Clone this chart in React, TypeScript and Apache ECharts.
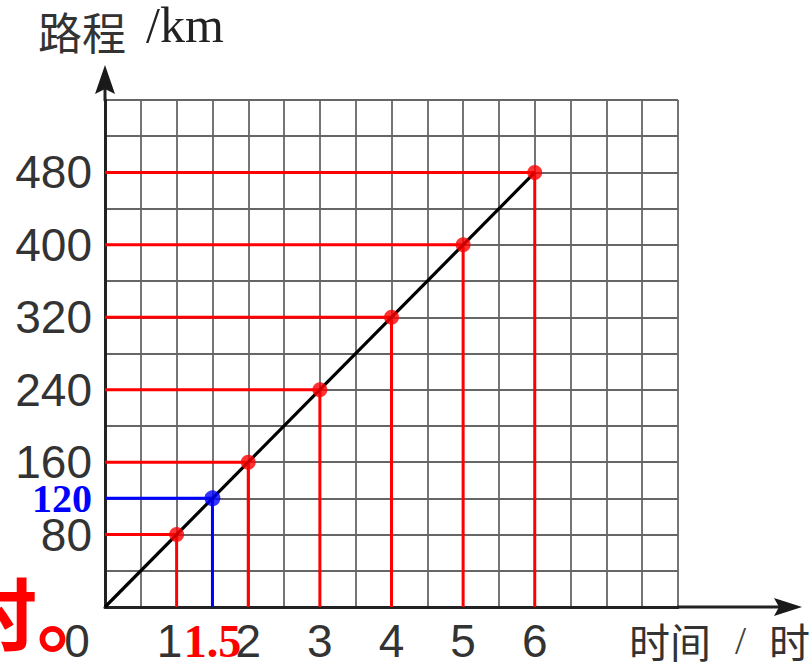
import React, { useEffect, useRef } from 'react';
import * as echarts from 'echarts';

// data
const hours = [1, 2, 3, 4, 5, 6];
const distances = [80, 160, 240, 320, 400, 480];
const blueHour = 1.5;
const blueDistance = 120;
const lineEnd = [6, 480];
const yTickLabels = [80, 160, 240, 320, 400, 480];
const xTickLabels = [2, 3, 4, 5, 6];
const xMax = 8;
const yMax = 560;

const SANS = '"Liberation Sans", Arial, sans-serif';
const SERIF = '"Liberation Serif", "Times New Roman", serif';
const CJK = '"Noto Sans CJK SC", sans-serif';

export default function App() {
  const ref = useRef<HTMLDivElement>(null);
  useEffect(() => {
    if (!ref.current) return;
    const chart = echarts.init(ref.current, undefined, { renderer: 'svg' });
    const guideSeries = hours.map((h, i) => ({
      type: 'line',
      data: [[0, distances[i]], [h, distances[i]], [h, 0]],
      symbol: 'none',
      lineStyle: { color: '#ff0000', width: 3 },
      z: 3,
      silent: true,
    }));
    chart.setOption({
      animation: false,
      grid: { left: 105, right: 134, top: 100, bottom: 56, containLabel: false, outerBoundsMode: 'none' },
      xAxis: {
        type: 'value',
        min: 0,
        max: xMax,
        interval: 0.5,
        axisLine: { show: true, onZero: false, lineStyle: { color: '#222', width: 3 } },
        axisTick: { show: false },
        splitLine: { show: true, lineStyle: { color: '#666', width: 1.8 } },
        axisLabel: {
          show: true,
          margin: 11,
          fontSize: 46,
          fontFamily: SANS,
          color: '#333',
          showMinLabel: true,
          showMaxLabel: true,
          formatter: (v: number) => {
            if (v === 0) return '{zero|0}';
            if (v === 1) return '{one|1}';
            if (v === blueHour) return '{red|1.5}';
            if (xTickLabels.includes(v)) return String(v);
            return '';
          },
          rich: {
            zero: { fontSize: 46, fontFamily: SANS, color: '#333', padding: [0, 56, 0, 0] },
            one: { fontSize: 46, fontFamily: SANS, color: '#333', padding: [0, 14, 0, 0] },
            red: { fontSize: 46, fontFamily: SERIF, fontWeight: 'bold', color: '#ff0000' },
          },
        },
      },
      yAxis: {
        type: 'value',
        min: 0,
        max: yMax,
        interval: 40,
        axisLine: { show: true, onZero: false, lineStyle: { color: '#222', width: 3 } },
        axisTick: { show: false },
        splitLine: { show: true, lineStyle: { color: '#666', width: 1.8 } },
        axisLabel: {
          show: true,
          margin: 13,
          fontSize: 46,
          fontFamily: SANS,
          color: '#333',
          formatter: (v: number) => {
            if (v === blueDistance) return '{blue|120}';
            if (yTickLabels.includes(v)) return String(v);
            return '';
          },
          rich: {
            blue: { fontSize: 40, fontFamily: SERIF, fontWeight: 'bold', color: '#0000ff' },
          },
        },
      },
      series: [
        ...guideSeries,
        {
          type: 'line',
          data: [[0, blueDistance], [blueHour, blueDistance], [blueHour, 0]],
          symbol: 'none',
          lineStyle: { color: '#0000ff', width: 3 },
          z: 3,
          silent: true,
        },
        {
          type: 'line',
          data: [[0, 0], lineEnd],
          symbol: 'none',
          lineStyle: { color: '#000', width: 3.2 },
          z: 4,
          silent: true,
        },
        {
          type: 'scatter',
          data: hours.map((h, i) => [h, distances[i]]),
          symbolSize: 15,
          itemStyle: { color: '#ff0000' },
          z: 5,
          silent: true,
        },
        {
          type: 'scatter',
          data: [[blueHour, blueDistance]],
          symbolSize: 16,
          itemStyle: { color: '#0000ff' },
          z: 5,
          silent: true,
        },
      ],
    });

    const o = chart.convertToPixel({ gridIndex: 0 }, [0, 0]) as number[];
    const tr = chart.convertToPixel({ gridIndex: 0 }, [xMax, yMax]) as number[];
    const ox = o[0], oy = o[1], top = tr[1], right = tr[0];
    chart.setOption({
      graphic: [
        { type: 'line', shape: { x1: ox, y1: top + 1, x2: ox, y2: top - 12 }, style: { stroke: '#222', lineWidth: 3 } },
        {
          type: 'polygon',
          shape: { points: [[ox, top - 35], [ox - 10, top - 6], [ox, top - 11], [ox + 10, top - 6]] },
          style: { fill: '#1a1a1a' },
        },
        { type: 'line', shape: { x1: right - 1, y1: oy, x2: right + 102, y2: oy }, style: { stroke: '#222', lineWidth: 3 } },
        {
          type: 'polygon',
          shape: { points: [[right + 124, oy], [right + 96, oy - 9], [right + 101, oy], [right + 96, oy + 9]] },
          style: { fill: '#1a1a1a' },
        },
        { type: 'text', x: 38, y: 31, style: { text: '路程', font: `44px ${CJK}`, fill: '#333', textVerticalAlign: 'middle' } },
        { type: 'text', x: 146, y: 50, style: { text: '/km', font: `50px ${SERIF}`, fill: '#222', textVerticalAlign: 'bottom' } },
        { type: 'text', x: 629, y: 640, style: { text: '时间', font: `41px ${CJK}`, fill: '#333', textVerticalAlign: 'middle' } },
        { type: 'text', x: 735, y: 640, style: { text: '/', font: `40px ${SERIF}`, fill: '#444', textVerticalAlign: 'middle' } },
        { type: 'text', x: 769, y: 640, style: { text: '时', font: `41px ${CJK}`, fill: '#333', textVerticalAlign: 'middle' } },
        { type: 'text', x: -43, y: 610, style: { text: '时。', font: `bold 80px ${CJK}`, fill: '#ff0000', textVerticalAlign: 'middle' } },
      ],
    });

    return () => chart.dispose();
  }, []);
  return <div ref={ref} style={{ position: 'fixed', left: 0, top: 0, width: 812, height: 663, background: '#fff' }} />;
}
